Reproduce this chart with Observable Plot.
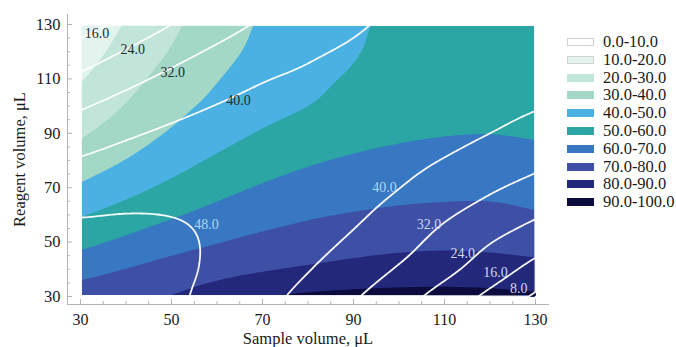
<!DOCTYPE html>
<html>
<head>
<meta charset="utf-8">
<script src="https://cdn.jsdelivr.net/npm/d3@7"></script>
<script src="https://cdn.jsdelivr.net/npm/@observablehq/plot@0.6"></script>
<style>
  html, body { margin: 0; padding: 0; background: #fff; }
  #wrap { position: relative; width: 676px; height: 347px; font-family: "Liberation Serif", "Times New Roman", serif; }
  #legend { position: absolute; left: 567px; top: 0; }
  .item { position: absolute; left: 0; height: 18px; display: flex; align-items: center; white-space: nowrap; }
  .sw { width: 27px; height: 8px; box-sizing: border-box; }
  .lab { margin-left: 9px; font-size: 16.5px; color: #1a1a1a; line-height: 18px; }
</style>
</head>
<body>
<div id="wrap"></div>
<script>
// ---------- data ----------
const sampleVolumes = [30, 40, 50, 60, 70, 80, 90, 100, 110, 120, 130];   // x, µL
const reagentVolumes = [30, 40, 50, 60, 70, 80, 90, 100, 110, 120, 130];  // y, µL

// filled response (banded colours), rows = reagent volume 30..130, columns = sample volume 30..130
const fillSurface = [
  [75.5, 77.8, 80.4, 85.0, 89.4, 91.6, 92.7, 93.2, 93.3, 92.8, 91.6],
  [66.3, 70.2, 73.6, 76.6, 79.2, 81.3, 82.9, 84.0, 84.4, 84.0, 82.8],
  [57.4, 62.0, 66.3, 69.6, 72.5, 74.6, 76.5, 77.7, 78.2, 77.8, 76.7],
  [49.3, 54.2, 58.9, 63.0, 66.3, 68.9, 70.6, 71.8, 72.4, 72.3, 70.8],
  [41.4, 46.9, 52.2, 57.0, 60.9, 63.8, 65.7, 66.9, 67.6, 67.8, 66.8],
  [34.5, 40.3, 46.2, 51.4, 55.6, 58.9, 61.1, 62.5, 63.4, 63.6, 62.7],
  [28.8, 34.9, 41.0, 46.4, 50.8, 54.3, 56.9, 58.6, 59.6, 59.9, 59.3],
  [23.8, 30.5, 37.0, 42.4, 46.6, 50.0, 52.9, 55.2, 56.8, 57.6, 57.8],
  [19.4, 26.8, 33.6, 39.6, 44.3, 48.0, 50.9, 53.3, 55.1, 56.4, 57.3],
  [15.5, 23.5, 30.6, 37.1, 42.2, 46.1, 49.5, 52.2, 54.5, 56.2, 57.3],
  [12.5, 20.6, 28.2, 35.2, 41.0, 45.2, 48.9, 51.6, 54.3, 56.4, 57.8]
];

// line response (white contour lines), same layout
const lineSurface = [
  [53.9, 51.9, 49.2, 46.0, 42.2, 37.8, 32.8, 27.2, 21.0, 14.2, 6.9],
  [52.4, 51.2, 49.4, 46.9, 43.9, 40.3, 36.1, 31.3, 26.0, 20.0, 13.4],
  [50.4, 49.9, 48.9, 47.3, 45.1, 42.3, 38.9, 34.7, 29.4, 24.3, 19.4],
  [47.7, 48.1, 47.9, 47.1, 45.7, 43.7, 41.1, 37.5, 33.0, 28.9, 24.8],
  [44.5, 45.6, 46.2, 46.2, 45.6, 44.4, 42.7, 40.1, 36.6, 33.0, 29.6],
  [40.6, 42.6, 44.0, 44.8, 45.0, 44.6, 43.7, 42.0, 39.7, 36.9, 33.9],
  [36.2, 39.0, 41.2, 42.8, 43.8, 44.2, 44.1, 43.3, 42.0, 40.0, 37.5],
  [31.2, 34.8, 37.8, 40.2, 42.0, 43.2, 43.7, 43.8, 43.4, 42.2, 40.5],
  [25.5, 29.9, 33.8, 37.0, 39.6, 41.2, 42.7, 43.6, 44.0, 43.9, 43.0],
  [19.3, 24.5, 29.2, 33.2, 36.6, 39.0, 41.0, 42.9, 44.1, 44.8, 44.8],
  [12.5, 18.5, 24.0, 28.8, 33.0, 36.2, 39.0, 41.6, 43.7, 45.2, 46.1]
];

const bandThresholds = [10, 20, 30, 40, 50, 60, 70, 80, 90];
const bandLabels = ["0.0-10.0", "10.0-20.0", "20.0-30.0", "30.0-40.0", "40.0-50.0",
                    "50.0-60.0", "60.0-70.0", "70.0-80.0", "80.0-90.0", "90.0-100.0"];
const lineLevels = [8, 16, 24, 32, 40, 48];

const labelTexts   = ["16.0", "24.0", "32.0", "40.0", "48.0", "40.0", "32.0", "24.0", "16.0", "8.0"];
const labelSample  = [33.6, 41.5, 50.3, 64.7, 57.7, 96.8, 106.6, 114.0, 121.2, 126.3];
const labelReagent = [126.8, 120.8, 112.3, 102.1, 56.5, 70.2, 56.5, 45.8, 38.8, 32.9];

const xTicks = [30, 50, 70, 90, 110, 130];
const yTicks = [30, 50, 70, 90, 110, 130];
const xMinor = [35, 40, 45, 55, 60, 65, 75, 80, 85, 95, 100, 105, 115, 120, 125];
const yMinor = [35, 40, 45, 55, 60, 65, 75, 80, 85, 95, 100, 105, 115, 120, 125];

const xTitle = "Sample volume, μL";
const yTitle = "Reagent volume, μL";

// ---------- styles ----------
const FONT = '"Liberation Serif", "Times New Roman", serif';
const bandColors = ["#ffffff", "#e3f3ee", "#c2e5d9", "#a3d8c6", "#4bb1e3",
                    "#2ba6a4", "#3877c2", "#3e4fa6", "#24287a", "#0b0b3e"];
const axisGrey = "#b4b4b4";
const textDark = "#1a1a1a";

// ---------- table ----------
const grid = [];
reagentVolumes.forEach((y, i) =>
  sampleVolumes.forEach((x, j) => grid.push({x, y, f: fillSurface[i][j], g: lineSurface[i][j]})));

const labels = labelTexts.map((t, i) => ({text: t, x: labelSample[i], y: labelReagent[i], i}));
const xs = d3.extent(sampleVolumes), ys = d3.extent(reagentVolumes);

// Plot custom interpolator: smooth (Catmull-Rom) surface through the regular sample grid
function gridInterpolate(index, w, h, X, Y, V) {
  const key = v => Math.round(v * 1000) / 1000;
  const ux = Array.from(new Set(Array.from(index, i => key(X[i])))).sort((a, b) => a - b);
  const uy = Array.from(new Set(Array.from(index, i => key(Y[i])))).sort((a, b) => a - b);
  const nx = ux.length, ny = uy.length;
  const G = new Float64Array(nx * ny).fill(NaN);
  for (const i of index) G[uy.indexOf(key(Y[i])) * nx + ux.indexOf(key(X[i]))] = V[i];
  const val = (a, b) => {
    if (a < 0) return 2 * val(0, b) - val(1, b);
    if (a > nx - 1) return 2 * val(nx - 1, b) - val(nx - 2, b);
    if (b < 0) return 2 * val(a, 0) - val(a, 1);
    if (b > ny - 1) return 2 * val(a, ny - 1) - val(a, ny - 2);
    return G[b * nx + a];
  };
  const cr = (p0, p1, p2, p3, t) =>
    0.5 * (2 * p1 + (-p0 + p2) * t + (2 * p0 - 5 * p1 + 4 * p2 - p3) * t * t + (-p0 + 3 * p1 - 3 * p2 + p3) * t * t * t);
  const dx = (ux[nx - 1] - ux[0]) / (nx - 1), dy = (uy[ny - 1] - uy[0]) / (ny - 1);
  const out = new Float64Array(w * h);
  for (let j = 0; j < h; ++j) {
    const fy = (j + 0.5 - uy[0]) / dy;
    const b0 = Math.max(0, Math.min(ny - 2, Math.floor(fy))), ty = fy - b0;
    for (let i = 0; i < w; ++i) {
      const fx = (i + 0.5 - ux[0]) / dx;
      const a0 = Math.max(0, Math.min(nx - 2, Math.floor(fx))), tx = fx - a0;
      const rows = [];
      for (let k = -1; k <= 2; ++k) {
        const b = b0 + k;
        rows.push(cr(val(a0 - 1, b), val(a0, b), val(a0 + 1, b), val(a0 + 2, b), tx));
      }
      out[j * w + i] = cr(rows[0], rows[1], rows[2], rows[3], ty);
    }
  }
  return out;
}

const plot = Plot.plot({
  width: 676, height: 347,
  marginLeft: 67, marginRight: 128, marginTop: 14, marginBottom: 43,
  style: {fontFamily: FONT, background: "transparent", overflow: "visible"},
  x: {domain: [27.14, 132.86]},
  y: {domain: [27.06, 133.68]},
  color: {type: "threshold", domain: bandThresholds, range: bandColors},
  marks: [
    Plot.contour(grid, {
      x: "x", y: "y", fill: "f", thresholds: bandThresholds,
      interpolate: gridInterpolate,
      x1: xs[0], x2: xs[1], y1: ys[0], y2: ys[1]
    }),
    Plot.contour(grid, {
      x: "x", y: "y", value: "g", thresholds: lineLevels,
      interpolate: gridInterpolate,
      x1: xs[0], x2: xs[1], y1: ys[0], y2: ys[1],
      fill: "none", stroke: "white", strokeWidth: 1.8, strokeOpacity: 0.95,
      ariaLabel: "contour lines"
    }),
    Plot.frame({anchor: "left", stroke: axisGrey}),
    Plot.frame({anchor: "bottom", stroke: axisGrey}),
    Plot.axisX(xMinor, {tickSize: -3, tickFormat: () => "", stroke: axisGrey, label: null}),
    Plot.axisX(xTicks, {tickSize: -5, tickPadding: 14, fontSize: 16, stroke: axisGrey, fill: textDark, label: null}),
    Plot.axisY(yMinor, {tickSize: -3, tickFormat: () => "", stroke: axisGrey, label: null}),
    Plot.axisY(yTicks, {tickSize: -5, tickPadding: 12, fontSize: 16.5, stroke: axisGrey, fill: textDark, label: null}),
    Plot.text([xTitle], {frameAnchor: "bottom", dy: 34, lineAnchor: "middle", textAnchor: "middle", fontSize: 16.5, fill: textDark}),
    Plot.text([yTitle], {frameAnchor: "left", dx: -48, rotate: -90, lineAnchor: "middle", textAnchor: "middle", fontSize: 16.5, fill: textDark}),
    Plot.text(labels, {filter: d => d.i < 4, x: "x", y: "y", text: "text", fontSize: 14, fill: "#1d2e33", ariaLabel: "contour labels"}),
    Plot.text(labels, {filter: d => d.i >= 4 && d.i < 6, x: "x", y: "y", text: "text", fontSize: 14, fill: "#a9d9f3", ariaLabel: "contour labels"}),
    Plot.text(labels, {filter: d => d.i >= 6, x: "x", y: "y", text: "text", fontSize: 14, fill: "#d0d5f2", ariaLabel: "contour labels"})
  ]
});

const wrap = document.getElementById("wrap");
wrap.appendChild(plot);

// break the contour lines under their labels and hide the raster-border rings
(function () {
  const ns = "http://www.w3.org/2000/svg";
  const svg = plot;
  const sr = svg.getBoundingClientRect();
  const sx = plot.scale("x"), sy = plot.scale("y");
  const px0 = sx.apply(xs[0]), px1 = sx.apply(xs[1]);
  const py0 = sy.apply(ys[1]), py1 = sy.apply(ys[0]);
  const defs = document.createElementNS(ns, "defs");

  const clip = document.createElementNS(ns, "clipPath");
  clip.setAttribute("id", "inner-clip");
  const cr = document.createElementNS(ns, "rect");
  const ins = 1.3;
  cr.setAttribute("x", px0 + ins); cr.setAttribute("y", py0 + ins);
  cr.setAttribute("width", px1 - px0 - 2 * ins); cr.setAttribute("height", py1 - py0 - 2 * ins);
  clip.appendChild(cr);
  defs.appendChild(clip);

  const mask = document.createElementNS(ns, "mask");
  mask.setAttribute("id", "label-gaps");
  mask.setAttribute("maskUnits", "userSpaceOnUse");
  mask.setAttribute("x", 0); mask.setAttribute("y", 0);
  mask.setAttribute("width", 676); mask.setAttribute("height", 347);
  const base = document.createElementNS(ns, "rect");
  base.setAttribute("x", 0); base.setAttribute("y", 0);
  base.setAttribute("width", 676); base.setAttribute("height", 347);
  base.setAttribute("fill", "white");
  mask.appendChild(base);
  svg.querySelectorAll('g[aria-label="contour labels"] text').forEach(t => {
    const b = t.getBoundingClientRect();
    const r = document.createElementNS(ns, "rect");
    r.setAttribute("x", b.left - sr.left - 1.5);
    r.setAttribute("y", b.top - sr.top + 1);
    r.setAttribute("width", b.width + 3);
    r.setAttribute("height", b.height - 2);
    r.setAttribute("fill", "black");
    mask.appendChild(r);
  });
  defs.appendChild(mask);
  svg.insertBefore(defs, svg.firstChild);
  const lines = svg.querySelector('g[aria-label="contour lines"]');
  if (lines) {
    const wrapG = document.createElementNS(ns, "g");
    wrapG.setAttribute("clip-path", "url(#inner-clip)");
    lines.parentNode.insertBefore(wrapG, lines);
    wrapG.appendChild(lines);
    lines.setAttribute("mask", "url(#label-gaps)");
  }
})();

// legend
const legend = document.createElement("div");
legend.id = "legend";
bandLabels.forEach((lab, i) => {
  const item = document.createElement("div");
  item.className = "item";
  item.style.top = (33 + i * 17.8) + "px";
  const sw = document.createElement("div");
  sw.className = "sw";
  sw.style.background = bandColors[i];
  if (i < 2) sw.style.border = "1px solid #d2d2d2";
  const t = document.createElement("span");
  t.className = "lab";
  t.textContent = lab;
  item.appendChild(sw); item.appendChild(t);
  legend.appendChild(item);
});
wrap.appendChild(legend);
</script>
</body>
</html>
